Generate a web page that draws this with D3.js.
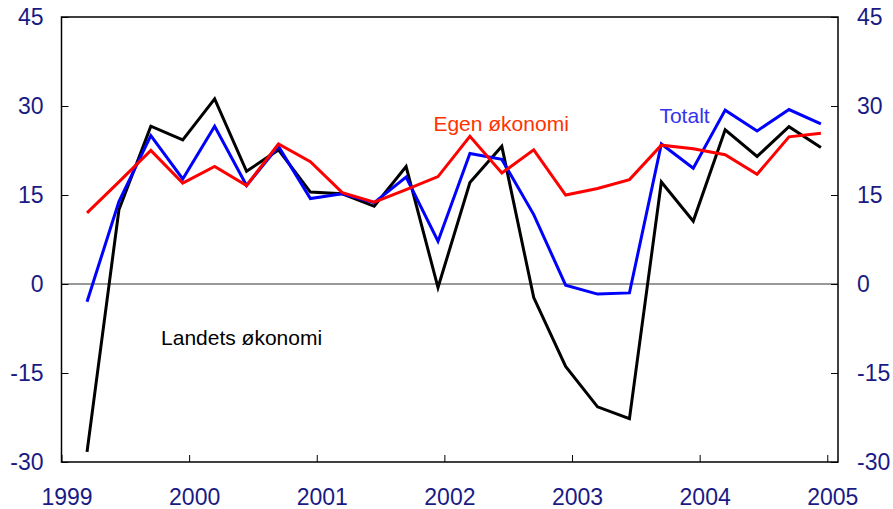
<!DOCTYPE html>
<html>
<head>
<meta charset="utf-8">
<script src="https://cdn.jsdelivr.net/npm/d3@7"></script>
<style>
  body { margin: 0; background: #fff; }
  svg { display: block; font-family: Arial, "Liberation Sans", sans-serif; }
</style>
</head>
<body>
<div id="chart"></div>
<script>
// quarterly observations, first one a bit into 1999
const START = 1999.2
const STEP = 0.25

const landets = [-28.3, 12.5, 26.6, 24.3, 31.2, 19.0, 22.6, 15.5, 15.2, 13.1, 19.8, -0.6,
  17.1, 23.2, -2.3, -13.9, -20.7, -22.7, 17.2, 10.6, 26.0, 21.5, 26.5, 23.0]
const totalt = [-3.0, 13.9, 25.0, 17.7, 26.6, 16.6, 23.2, 14.4, 15.2, 13.7, 18.0, 7.2,
  22.0, 21.0, 11.7, -0.2, -1.7, -1.5, 23.6, 19.5, 29.3, 25.8, 29.4, 27.0]
const egen = [12.0, 17.2, 22.5, 17.0, 19.8, 16.6, 23.6, 20.6, 15.4, 13.8, 15.9, 18.1,
  24.9, 18.7, 22.6, 15.0, 16.1, 17.6, 23.4, 22.8, 21.8, 18.5, 24.8, 25.4]

const yTicks = [-30, -15, 0, 15, 30, 45]
const xTicks = [1999, 2000, 2001, 2002, 2003, 2004, 2005]

const series = [
  { name: "Landets økonomi", values: landets, color: "#000000" },
  { name: "Totalt", values: totalt, color: "#0000ff" },
  { name: "Egen økonomi", values: egen, color: "#ff0000" }
]

const labels = [
  { text: "Egen økonomi", x: 2001.914, y: 25.8, color: "#ff3300" },
  { text: "Totalt", x: 2003.685, y: 27.2, color: "#3333ee" },
  { text: "Landets økonomi", x: 1999.78, y: -10.3, color: "#000000" }
]

const W = 893, H = 509
const M = { TOP: 17, BOTTOM: 47, LEFT: 61.5, RIGHT: 55 }
const AXIS_COLOR = "#1a1a85"

const svg = d3.select("#chart").append("svg")
  .attr("width", W)
  .attr("height", H)

const x = d3.scaleLinear()
  .domain([1999, 2005.084])
  .range([M.LEFT, W - M.RIGHT])

const y = d3.scaleLinear()
  .domain([-30, 45])
  .range([H - M.BOTTOM, M.TOP])

// zero line
svg.append("line")
  .attr("x1", x.range()[0]).attr("x2", x.range()[1])
  .attr("y1", y(0)).attr("y2", y(0))
  .attr("stroke", "#333").attr("stroke-width", 1)

// plain hyphen for negatives, like the original
const fmtY = d => String(d)

// axes, ticks pointing inwards
const left = svg.append("g")
  .attr("transform", `translate(${M.LEFT},0)`)
  .call(d3.axisLeft(y).tickValues(yTicks).tickFormat(fmtY).tickSize(-7).tickPadding(18))
const right = svg.append("g")
  .attr("transform", `translate(${W - M.RIGHT},0)`)
  .call(d3.axisRight(y).tickValues(yTicks).tickFormat(fmtY).tickSize(-7).tickPadding(19))
const bottom = svg.append("g")
  .attr("transform", `translate(0,${H - M.BOTTOM})`)
  .call(d3.axisBottom(x).tickValues(xTicks).tickFormat(d3.format("d")).tickSize(-7).tickPadding(27))

for (const g of [left, right, bottom]) {
  g.select(".domain").remove()
  g.selectAll(".tick line").attr("stroke", "#000").attr("stroke-width", 1)
  g.selectAll(".tick text")
    .attr("fill", AXIS_COLOR)
    .attr("font-size", 23)
    .attr("font-family", "Arial, 'Liberation Sans', sans-serif")
}
bottom.selectAll(".tick text").attr("dx", 5)

// frame
svg.append("rect")
  .attr("x", M.LEFT).attr("y", M.TOP)
  .attr("width", W - M.RIGHT - M.LEFT)
  .attr("height", H - M.BOTTOM - M.TOP)
  .attr("fill", "none")
  .attr("stroke", "#000")
  .attr("stroke-width", 1.5)

const line = d3.line()
  .x((d, i) => x(START + STEP * i))
  .y(d => y(d))

svg.selectAll(".series")
  .data(series)
  .enter().append("path")
    .attr("class", "series")
    .attr("d", d => line(d.values))
    .attr("fill", "none")
    .attr("stroke", d => d.color)
    .attr("stroke-width", 3)
    .attr("stroke-linejoin", "miter")

svg.selectAll(".label")
  .data(labels)
  .enter().append("text")
    .attr("class", "label")
    .attr("x", d => x(d.x))
    .attr("y", d => y(d.y))
    .attr("fill", d => d.color)
    .attr("font-size", 21)
    .text(d => d.text)
</script>
</body>
</html>
